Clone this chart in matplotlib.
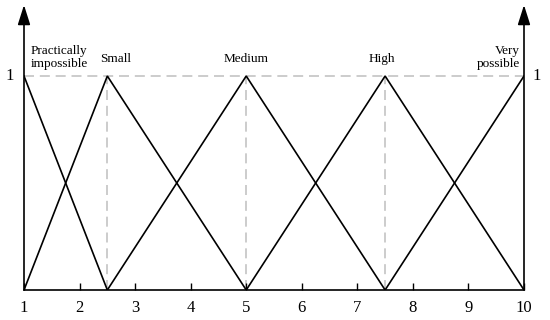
import matplotlib
matplotlib.use("Agg")
import matplotlib.pyplot as plt

# Data
categories = ["Practically\nimpossible", "Small", "Medium", "High", "Very\npossible"]
shapes_x = [[1, 2.5], [1, 2.5, 5], [2.5, 5, 7.5], [5, 7.5, 10], [7.5, 10]]
shapes_y = [[1, 0], [0, 1, 0], [0, 1, 0], [0, 1, 0], [0, 1]]
peaks = [2.5, 5, 7.5]
xticks = [1, 2, 3, 4, 5, 6, 7, 8, 9, 10]

plt.rcParams['font.family'] = ['Liberation Serif', 'DejaVu Serif']

fig = plt.figure(figsize=(5.5, 3.2), dpi=100)
ax = fig.add_axes([24/550, 30/320, 500/550, 285/320])
ax.set_xlim(1, 10)
ax.set_ylim(0, 285/214)

# dashed guides
ax.plot([1, 10], [1, 1], color='#c4c4c4', ls=(0, (6, 3.5)), lw=1.2, zorder=1)
for p in peaks:
    ax.plot([p, p], [0, 1], color='#c4c4c4', ls=(0, (6, 3.5)), lw=1.2, zorder=1)

for xs, ys in zip(shapes_x, shapes_y):
    ax.plot(xs, ys, color='black', lw=1.2, zorder=2, solid_joinstyle='miter')

for s in ['top', 'left', 'right']:
    ax.spines[s].set_visible(False)
ax.spines['bottom'].set_linewidth(1.2)

# vertical axes with arrows
for xv in [1, 10]:
    ax.annotate('', xy=(xv, 285/214), xytext=(xv, 0),
                arrowprops=dict(arrowstyle='-|>,head_length=1.2,head_width=0.38',
                                color='black', lw=1.2, shrinkA=0, shrinkB=0),
                annotation_clip=False)

ax.set_yticks([])
ax.set_xticks(xticks)
ax.set_xticklabels([str(t) for t in xticks], fontsize=12)
ax.tick_params(axis='x', direction='in', length=5, width=1, pad=7)

ax.text(0.82, 1, '1', ha='right', va='center', fontsize=12)
ax.text(10.15, 1, '1', ha='left', va='center', fontsize=12)

fs = 9.5
ax.text(1.12, 1.03, categories[0], ha='left', va='bottom', fontsize=fs, linespacing=1.1)
ax.text(2.65, 1.05, categories[1], ha='center', va='bottom', fontsize=fs)
ax.text(5.0, 1.05, categories[2], ha='center', va='bottom', fontsize=fs)
ax.text(7.45, 1.05, categories[3], ha='center', va='bottom', fontsize=fs)
ax.text(9.92, 1.03, categories[4], ha='right', va='bottom', fontsize=fs, linespacing=1.1, multialignment='right')

fig.savefig('out.png', dpi=100)
